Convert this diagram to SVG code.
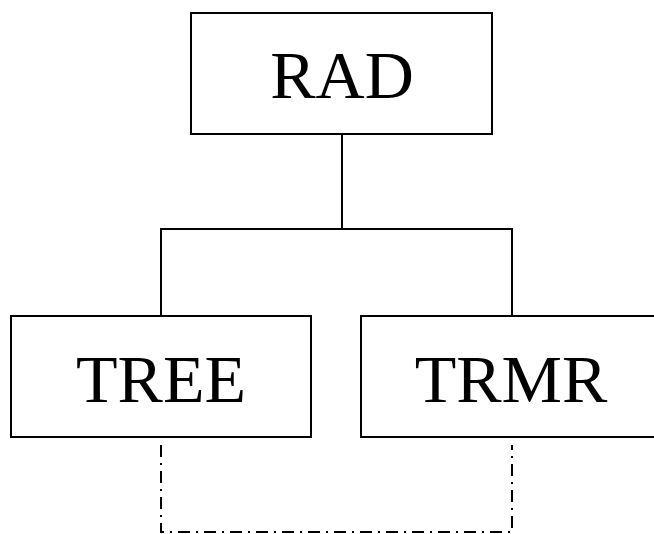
<svg xmlns="http://www.w3.org/2000/svg" width="654" height="534" viewBox="0 0 654 534">
<style>
.box{fill:#fff;stroke:#000;stroke-width:2}
.lbl{font-family:"Liberation Serif","Times New Roman",serif;font-size:68px;text-anchor:middle;fill:#000}
.ln{fill:none;stroke:#000;stroke-width:2}
.dd{fill:none;stroke:#000;stroke-width:2;stroke-dasharray:12 6 2 6}
</style>
<rect width="654" height="534" fill="#fff"/>
<g id="connectors">
<path class="ln" d="M342 134 V229 M161 316 V229 H512 V316"/>
<path class="dd" d="M161 445 V532 H512 V445"/>
</g>
<g id="RAD">
<rect class="box" x="191" y="13" width="301" height="121"/>
<text class="lbl" x="342" y="98">RAD</text>
</g>
<g id="TREE">
<rect class="box" x="11" y="316" width="300" height="121"/>
<text class="lbl" x="161" y="402">TREE</text>
</g>
<g id="TRMR">
<rect class="box" x="361" y="316" width="300" height="121"/>
<text class="lbl" x="511" y="402">TRMR</text>
</g>
</svg>
